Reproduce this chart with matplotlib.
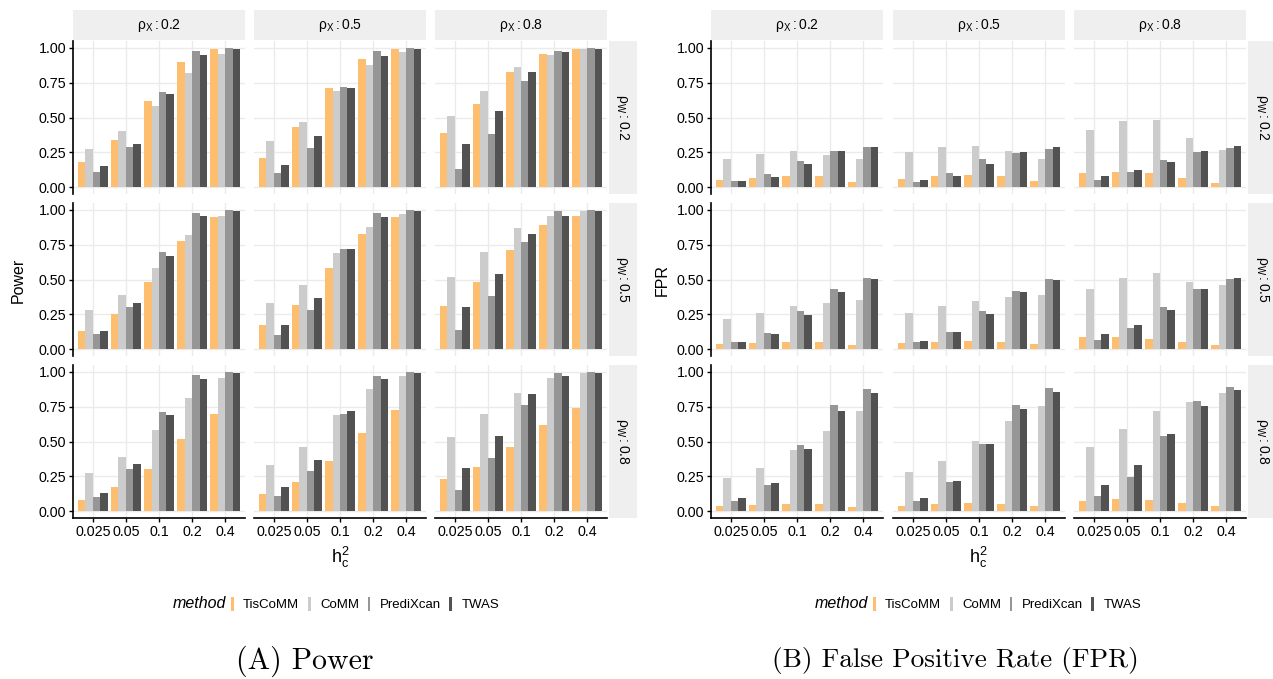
import numpy as np
import matplotlib
matplotlib.use('Agg')
import matplotlib.pyplot as plt
from matplotlib.patches import Patch

plt.rcParams['font.family'] = ['Liberation Sans', 'DejaVu Sans']
plt.rcParams['mathtext.fontset'] = 'custom'
plt.rcParams['mathtext.rm'] = 'Liberation Sans'
plt.rcParams['mathtext.it'] = 'Liberation Sans:italic'
plt.rcParams['mathtext.default'] = 'regular'

# categories
h2_labels = ['0.025', '0.05', '0.1', '0.2', '0.4']
rho_x = ['0.2', '0.5', '0.8']
rho_w = ['0.2', '0.5', '0.8']
methods = ['TisCoMM', 'CoMM', 'PrediXcan', 'TWAS']
colors = ['#FDBF6F', '#CCCCCC', '#969696', '#525252']

# Power values: [rho_w][rho_x] -> values over h2
power_tiscomm = [
    [[0.18, 0.34, 0.62, 0.90, 0.99], [0.21, 0.43, 0.71, 0.92, 0.99], [0.39, 0.60, 0.83, 0.96, 0.99]],
    [[0.13, 0.25, 0.48, 0.78, 0.95], [0.17, 0.32, 0.58, 0.83, 0.95], [0.31, 0.48, 0.71, 0.89, 0.96]],
    [[0.08, 0.17, 0.30, 0.52, 0.70], [0.12, 0.21, 0.36, 0.56, 0.73], [0.23, 0.32, 0.46, 0.62, 0.74]],
]
power_comm = [
    [[0.27, 0.40, 0.58, 0.82, 0.96], [0.33, 0.47, 0.69, 0.88, 0.97], [0.51, 0.69, 0.86, 0.95, 0.99]],
    [[0.28, 0.39, 0.58, 0.82, 0.96], [0.33, 0.46, 0.69, 0.88, 0.97], [0.52, 0.70, 0.87, 0.96, 0.99]],
    [[0.27, 0.39, 0.58, 0.81, 0.96], [0.33, 0.46, 0.69, 0.88, 0.97], [0.53, 0.70, 0.85, 0.96, 0.99]],
]
power_predixcan = [
    [[0.11, 0.29, 0.68, 0.98, 1.00], [0.10, 0.28, 0.72, 0.98, 1.00], [0.13, 0.38, 0.76, 0.98, 1.00]],
    [[0.11, 0.30, 0.70, 0.98, 1.00], [0.10, 0.28, 0.72, 0.98, 1.00], [0.14, 0.38, 0.77, 0.99, 1.00]],
    [[0.10, 0.30, 0.71, 0.98, 1.00], [0.11, 0.29, 0.70, 0.97, 1.00], [0.15, 0.38, 0.76, 0.99, 1.00]],
]
power_twas = [
    [[0.15, 0.31, 0.67, 0.95, 0.99], [0.16, 0.37, 0.71, 0.94, 0.99], [0.31, 0.55, 0.83, 0.97, 0.99]],
    [[0.13, 0.33, 0.67, 0.96, 0.99], [0.17, 0.37, 0.72, 0.95, 0.99], [0.30, 0.54, 0.83, 0.96, 0.99]],
    [[0.13, 0.34, 0.69, 0.95, 0.99], [0.17, 0.37, 0.72, 0.95, 0.99], [0.31, 0.54, 0.84, 0.97, 0.99]],
]

# FPR values: [rho_w][rho_x] -> values over h2
fpr_tiscomm = [
    [[0.050, 0.065, 0.080, 0.077, 0.036], [0.055, 0.082, 0.089, 0.077, 0.041], [0.103, 0.106, 0.101, 0.062, 0.029]],
    [[0.038, 0.043, 0.053, 0.050, 0.026], [0.041, 0.053, 0.058, 0.050, 0.036], [0.084, 0.086, 0.070, 0.050, 0.029]],
    [[0.036, 0.043, 0.053, 0.050, 0.031], [0.036, 0.048, 0.058, 0.053, 0.036], [0.074, 0.084, 0.079, 0.055, 0.034]],
]
fpr_comm = [
    [[0.204, 0.235, 0.257, 0.230, 0.204], [0.249, 0.285, 0.297, 0.257, 0.201], [0.412, 0.475, 0.480, 0.350, 0.264]],
    [[0.218, 0.259, 0.307, 0.333, 0.350], [0.261, 0.309, 0.345, 0.374, 0.388], [0.432, 0.511, 0.549, 0.480, 0.460]],
    [[0.235, 0.307, 0.439, 0.576, 0.719], [0.281, 0.362, 0.504, 0.650, 0.758], [0.460, 0.587, 0.722, 0.784, 0.847]],
]
fpr_predixcan = [
    [[0.041, 0.094, 0.187, 0.257, 0.288], [0.038, 0.098, 0.201, 0.247, 0.271], [0.053, 0.110, 0.197, 0.254, 0.283]],
    [[0.050, 0.113, 0.276, 0.429, 0.508], [0.050, 0.122, 0.273, 0.417, 0.506], [0.065, 0.149, 0.300, 0.429, 0.506]],
    [[0.072, 0.187, 0.477, 0.765, 0.878], [0.072, 0.206, 0.482, 0.763, 0.885], [0.106, 0.245, 0.537, 0.791, 0.894]],
]
fpr_twas = [
    [[0.041, 0.070, 0.163, 0.259, 0.288], [0.048, 0.082, 0.168, 0.252, 0.285], [0.077, 0.125, 0.180, 0.259, 0.295]],
    [[0.053, 0.108, 0.242, 0.408, 0.501], [0.055, 0.120, 0.252, 0.408, 0.499], [0.110, 0.170, 0.283, 0.432, 0.513]],
    [[0.094, 0.201, 0.448, 0.717, 0.849], [0.096, 0.218, 0.482, 0.736, 0.859], [0.185, 0.333, 0.552, 0.758, 0.873]],
]

W, H = 1273, 679
fig = plt.figure(figsize=(W / 100, H / 100), dpi=100)


def px_axes(left, top, w, h):
    return fig.add_axes([left / W, 1 - (top + h) / H, w / W, h / H])


strip_col = '#EFEFEF'
grid_col = '#EBEBEB'
row_tops = [41, 203, 365]
row_h = 153
col_w = 172
tick_fs = 10.3


def draw_block(col_lefts, series, ylabel, ylabel_x, right_strip_w):
    x = np.arange(len(h2_labels))
    width = 0.225
    offsets = (np.arange(4) - 1.5) * width
    for r in range(3):
        for c in range(3):
            ax = px_axes(col_lefts[c], row_tops[r], col_w, row_h)
            for m in range(4):
                ax.bar(x + offsets[m], series[m][r][c], width, color=colors[m], zorder=3)
            ax.set_xlim(-0.6, 4.6)
            ax.set_ylim(-0.05, 1.05)
            ax.set_xticks(x)
            ax.set_yticks([0, 0.25, 0.5, 0.75, 1.0])
            ax.grid(True, color=grid_col, linewidth=1.0, zorder=0)
            for s in ['top', 'right']:
                ax.spines[s].set_visible(False)
            ax.spines['left'].set_visible(c == 0)
            ax.spines['bottom'].set_visible(r == 2)
            for s in ['left', 'bottom']:
                ax.spines[s].set_linewidth(1.2)
                ax.spines[s].set_color('black')
            ax.tick_params(axis='y', left=(c == 0), labelleft=(c == 0), length=3,
                           width=1.0, labelsize=tick_fs, pad=2, colors='black')
            ax.tick_params(axis='x', bottom=(r == 2), labelbottom=(r == 2), length=3,
                           width=1.0, labelsize=tick_fs, pad=2, colors='black')
            if c == 0:
                ax.set_yticklabels(['0.00', '0.25', '0.50', '0.75', '1.00'])
            if r == 2:
                ax.set_xticklabels(h2_labels)
            # top strip
            if r == 0:
                st = px_axes(col_lefts[c], 10, col_w, 30)
                st.set_facecolor(strip_col)
                st.set_xticks([]); st.set_yticks([])
                for s in st.spines.values():
                    s.set_visible(False)
                st.text(0.5, 0.5, r'$\rho_X : %s$' % rho_x[c], ha='center', va='center',
                        fontsize=10, transform=st.transAxes)
            # right strip
            if c == 2:
                st = px_axes(col_lefts[c] + col_w + 2, row_tops[r], right_strip_w, row_h)
                st.set_facecolor(strip_col)
                st.set_xticks([]); st.set_yticks([])
                for s in st.spines.values():
                    s.set_visible(False)
                st.text(0.5, 0.5, r'$\rho_W : %s$' % rho_w[r], ha='center', va='center',
                        fontsize=10, rotation=-90, transform=st.transAxes)
    fig.text(ylabel_x / W, 1 - 280 / H, ylabel, rotation=90, ha='center', va='center', fontsize=11.5)
    xc = (col_lefts[0] + col_lefts[2] + col_w) / 2
    fig.text(xc / W, 1 - 557 / H, r'$h_c^2$', ha='center', va='center', fontsize=13)


draw_block([73, 254, 435], [power_tiscomm, power_comm, power_predixcan, power_twas], 'Power', 18, 28)
draw_block([711, 893, 1074], [fpr_tiscomm, fpr_comm, fpr_predixcan, fpr_twas], 'FPR', 662, 28)

# legends
handles = [Patch(facecolor=col, edgecolor='none') for col in colors]
for title_x, leg_x in [(226, 231), (868, 873)]:
    fig.text(title_x / W, 1 - 604 / H, 'method', style='italic', ha='right', va='center', fontsize=11.5)
    fig.legend(handles, methods, loc='center left', bbox_to_anchor=(leg_x / W, 1 - 604 / H),
               ncol=4, frameon=False, handlelength=0.22, handleheight=1.3, handletextpad=0.7,
               columnspacing=0.65, fontsize=9.5, borderaxespad=0, borderpad=0)

# captions
fig.text(305 / W, 1 - 661 / H, '(A) Power', fontname='cmr10', fontsize=21.5, ha='center', va='center')
fig.text(955 / W, 1 - 661 / H, '(B) False Positive Rate (FPR)', fontname='cmr10', fontsize=19.6,
         ha='center', va='center')

fig.savefig('out.png', dpi=100)
